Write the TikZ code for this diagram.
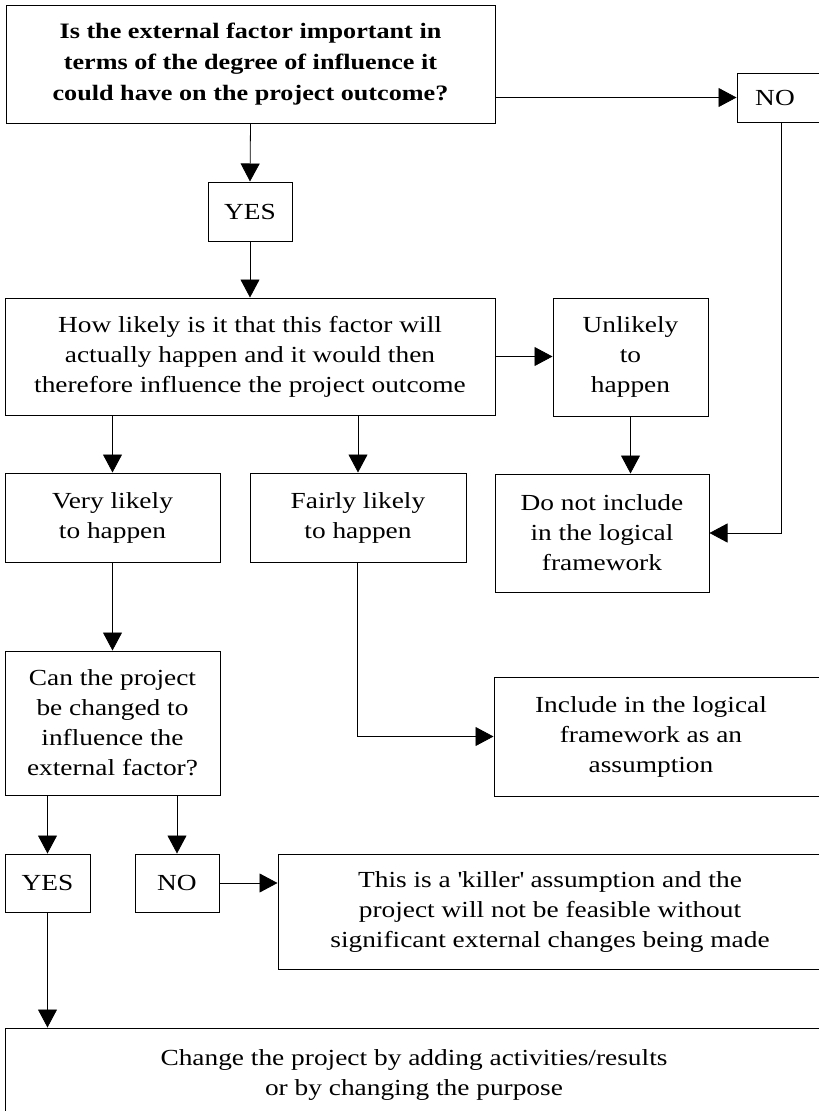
\documentclass[tikz,border=0pt]{standalone}
\usepackage{fontspec}
\setmainfont[FakeStretch=1.19]{Liberation Serif}
\usetikzlibrary{arrows.meta}
\begin{document}
\begin{tikzpicture}[x=1pt,y=-1pt,
  box/.style={draw, line width=1pt, rectangle, inner sep=0pt, align=center, font=\fontsize{23}{30}\selectfont},
  txt/.style={inner sep=0pt, align=center, font=\fontsize{23}{30}\selectfont},
  arr/.style={line width=0.8pt, -{Triangle[width=19pt,length=18pt]}}
]
\useasboundingbox (0,0) rectangle (819,1111);
\clip (0,0) rectangle (819,1111);
% boxes
\node[box, minimum width=489pt, minimum height=118pt, font=\bfseries\fontsize{22}{31}\selectfont] (top) at (250.5,64)
  {Is the external factor important in\\terms of the degree of influence it\\could have on the project outcome?};
\node[box, minimum width=88pt, minimum height=49pt] (no1) at (781,97.5) {};
\node[txt] (no1t) at (775,97.5) {NO};
\node[box, minimum width=84pt, minimum height=59pt] (yes1) at (250,211.5) {YES};
\node[box, minimum width=490pt, minimum height=117pt] (how) at (250,356.5)
  {How likely is it that this factor will\\actually happen and it would then\\therefore influence the project outcome};
\node[box, minimum width=155pt, minimum height=118pt] (unl) at (630.5,357) {Unlikely\\to\\happen};
\node[box, minimum width=215pt, minimum height=89pt] (very) at (112.5,517.5) {Very likely\\to happen};
\node[box, minimum width=216pt, minimum height=89pt] (fair) at (358,517.5) {Fairly likely\\to happen};
\node[box, minimum width=214pt, minimum height=118pt] (donot) at (602,533) {Do not include\\in the logical\\framework};
\node[box, minimum width=215pt, minimum height=144pt] (can) at (112.5,723)
  {Can the project\\be changed to\\influence the\\external factor?};
\node[box, minimum width=340pt, minimum height=119pt] (inc) at (664,736.5) {};
\node[txt] (inct) at (651,736.5) {Include in the logical\\framework as an\\assumption};
\node[box, minimum width=85pt, minimum height=58pt] (yes2) at (47.5,883) {YES};
\node[box, minimum width=84pt, minimum height=58pt] (no2) at (177,883) {NO};
\node[box, minimum width=544pt, minimum height=115pt] (kill) at (550,911.5)
  {This is a \textquotesingle killer\textquotesingle{} assumption and the\\project will not be feasible without\\significant external changes being made};
\node[box, minimum width=818pt, minimum height=94pt] (bot) at (414,1075)
  {Change the project by adding activities/results\\or by changing the purpose};
% connectors
\draw[arr] (no1.west -| top.east) -- (no1.west);
\draw[arr] (top.south) -- (yes1.north);
\draw[arr] (yes1.south) -- (how.north -| yes1.south);
\draw[arr] (how.east) -- (unl.west |- how.east);
\draw[arr] (very.north |- how.south) -- (very.north);
\draw[arr] (fair.north |- how.south) -- (fair.north);
\draw[arr] (unl.south) -- (unl.south |- donot.north);
\draw[arr] (no1.south) |- (donot.east);
\draw[arr] (very.south) -- (can.north);
\draw[arr] ([xshift=-1pt]fair.south) |- (inc.west);
\draw[arr] (yes2.north |- can.south) -- (yes2.north);
\draw[arr] (no2.north |- can.south) -- (no2.north);
\draw[arr] (no2.east) -- (kill.west |- no2.east);
\draw[arr] (yes2.south) -- (yes2.south |- bot.north);
\end{tikzpicture}
\end{document}
